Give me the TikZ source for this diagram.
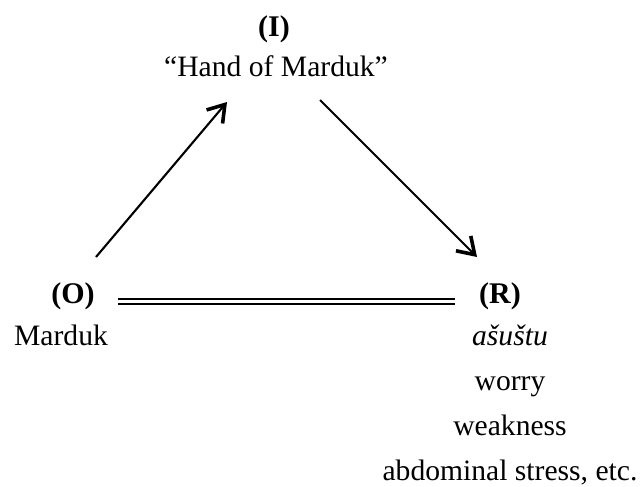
\documentclass[tikz,border=0pt]{standalone}
\usepackage{fontspec}
\setmainfont{Liberation Serif}
\usetikzlibrary{%
	arrows.meta,%
	calc
}

\begin{document}
\begin{tikzpicture}[x=0.5pt,y=-0.5pt,
	lbl/.style={font=\fontsize{15}{18}\selectfont\bfseries, inner sep=0pt, anchor=base},
	txt/.style={font=\fontsize{14.8}{18}\selectfont, inner sep=0pt, anchor=base},
	arr/.style={line width=1.05pt, -{Straight Barb[length=8pt,width=10.5pt,line width=1.8pt]}}]
		\useasboundingbox (0,0) rectangle (640,486);
		
		%Labels
		\node[lbl] (I) at (274,37) {(I)};
		\node[lbl] (O) at (73,303) {(O)};
		\node[lbl] (R) at (500,303) {(R)};
		
		% Texts
		\node[txt] (handI) at (276,77) {``Hand of Marduk''};
		\node[txt] (mardukO) at (61,345) {Marduk};
		\foreach \txt [count=\k] in {\textit{ašuštu}, worry, weakness, {abdominal stress, etc.}}
		\node[txt] (r\k) at (510,300+45*\k) {\txt};
		
		% Arrow ends
		\coordinate (oi) at (96,257);
		\coordinate (io) at (227,102);
		\coordinate (ir) at (320,100);
		\coordinate (ri) at (477,257);
		\coordinate (or) at (118,301.5);
		\coordinate (ro) at (455,301.5);
		
		% Arrows
		\draw[arr] (oi) -- (io);
		\draw[arr] (ir) -- (ri);
		\draw[line width=0.9pt, double, double distance=1.8pt] (or) -- (ro);
	\end{tikzpicture}
\end{document}
